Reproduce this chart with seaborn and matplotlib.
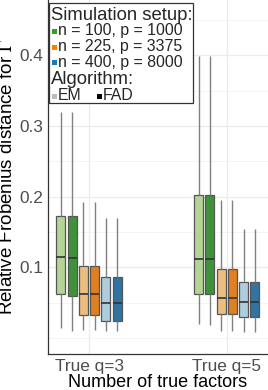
import numpy as np
import pandas as pd
import seaborn as sns
import matplotlib.pyplot as plt
from matplotlib.patches import Rectangle

###### Data
factors = ["True q=3", "True q=5"]
setups = ["n = 100, p = 1000", "n = 225, p = 3375", "n = 400, p = 8000"]
algorithms = ["EM", "FAD"]

# five-number summaries: low whisker, q1, median, q3, high whisker
q3_em_100 = [0.014, 0.062, 0.115, 0.173, 0.320]
q3_fad_100 = [0.010, 0.059, 0.113, 0.173, 0.320]
q3_em_225 = [0.011, 0.033, 0.062, 0.102, 0.192]
q3_fad_225 = [0.011, 0.033, 0.062, 0.102, 0.192]
q3_em_400 = [0.010, 0.024, 0.050, 0.086, 0.170]
q3_fad_400 = [0.010, 0.024, 0.050, 0.086, 0.170]

q5_em_100 = [0.020, 0.062, 0.112, 0.202, 0.399]
q5_fad_100 = [0.018, 0.062, 0.112, 0.202, 0.399]
q5_em_225 = [0.010, 0.034, 0.056, 0.098, 0.195]
q5_fad_225 = [0.010, 0.034, 0.056, 0.098, 0.195]
q5_em_400 = [0.0085, 0.030, 0.051, 0.079, 0.154]
q5_fad_400 = [0.0085, 0.030, 0.051, 0.079, 0.154]

summaries = {
    "True q=3": [q3_em_100, q3_fad_100, q3_em_225, q3_fad_225, q3_em_400, q3_fad_400],
    "True q=5": [q5_em_100, q5_fad_100, q5_em_225, q5_fad_225, q5_em_400, q5_fad_400],
}
box_colors = ["#B2DF8A", "#33A02C", "#FDBF6F", "#FF7F00", "#A6CEE3", "#1F78B4"]
setup_colors = ["#33A02C", "#FF7F00", "#1F78B4"]
algo_colors = ["#BEBEBE", "#000000"]

groups = [f"{s} / {a}" for s in setups for a in algorithms]
rows = []
for f in factors:
    for g, vals in zip(groups, summaries[f]):
        for v in vals:
            rows.append([f, g, v])
df = pd.DataFrame(rows, columns=["factor", "group", "value"])

###### Plotting
sns.set_style("white")
plt.rcParams['font.family'] = ['Liberation Sans', 'DejaVu Sans']
plt.rcParams['mathtext.fontset'] = 'stix'

W, H = 268, 390
fig = plt.figure(figsize=(W / 100, H / 100), dpi=100)
ax = fig.add_axes([48 / W, 1 - 354 / H, 220 / W, 354 / H])

sns.boxplot(data=df, x="factor", y="value", hue="group", hue_order=groups,
            order=factors, palette=box_colors, width=0.49, gap=0.2,
            whis=np.inf, linecolor="#555555", linewidth=0.9, legend=False,
            medianprops={"color": "#333333", "linewidth": 1.2},
            whiskerprops={"color": "#808080", "linewidth": 1.0},
            capprops={"linewidth": 0}, ax=ax)

ax.set_xlim(-0.298, 1.30)
ax.set_ylim(-0.0226, 0.478)
ax.set_yticks([0.1, 0.2, 0.3, 0.4])
ax.set_yticklabels(["0.1", "0.2", "0.3", "0.4"])
ax.set_yticks([0.0, 0.05, 0.15, 0.25, 0.35, 0.45], minor=True)
ax.grid(True, which="major", color="#EBEBEB", linewidth=0.9)
ax.grid(True, which="minor", axis="y", color="#F2F2F2", linewidth=0.6)
ax.set_axisbelow(True)
for s in ["top", "right"]:
    ax.spines[s].set_visible(False)
for s in ["left", "bottom"]:
    ax.spines[s].set_color("#333333")
    ax.spines[s].set_linewidth(0.9)
ax.tick_params(axis="both", which="major", length=2.5, width=0.8, color="#333333",
               labelsize=12.4, labelcolor="#4D4D4D", pad=1)
ax.tick_params(axis="y", which="minor", length=0)

ax.set_xlabel("Number of true factors", fontsize=13, color="black", labelpad=0)
ax.set_ylabel("Relative Frobenius distance for $\\Gamma$", fontsize=13.5, color="black")
ax.yaxis.set_label_coords(-0.145, 0.5)

###### Manual legend (pixel positions -> figure coords)
def fx(x): return x / W
def fy(y): return 1 - y / H

fig.add_artist(Rectangle((fx(49), fy(103)), fx(193) - fx(49), fy(3) - fy(103),
                         transform=fig.transFigure, facecolor="white",
                         edgecolor="#333333", linewidth=0.9, zorder=5))
fig.text(fx(51), fy(15), "Simulation setup:", fontsize=13.3, va="center", zorder=6)
for i, (lab, col) in enumerate(zip(setups, setup_colors)):
    yc = [31, 47, 62][i]
    fig.add_artist(Rectangle((fx(52), fy(yc + 2.5)), fx(5), 5 / H,
                             transform=fig.transFigure, facecolor=col,
                             edgecolor="none", zorder=6))
    fig.text(fx(58), fy(yc), lab, fontsize=11.4, va="center", zorder=6)
fig.text(fx(51), fy(80), "Algorithm:", fontsize=13.3, va="center", zorder=6)
for x0, lab, col in zip([52, 97], algorithms, algo_colors):
    fig.add_artist(Rectangle((fx(x0), fy(96 + 2.5)), fx(5), 5 / H,
                             transform=fig.transFigure, facecolor=col,
                             edgecolor="none", zorder=6))
    fig.text(fx(x0 + 6), fy(96), lab, fontsize=11.4, va="center", zorder=6)

fig.savefig("out.png", dpi=100)
